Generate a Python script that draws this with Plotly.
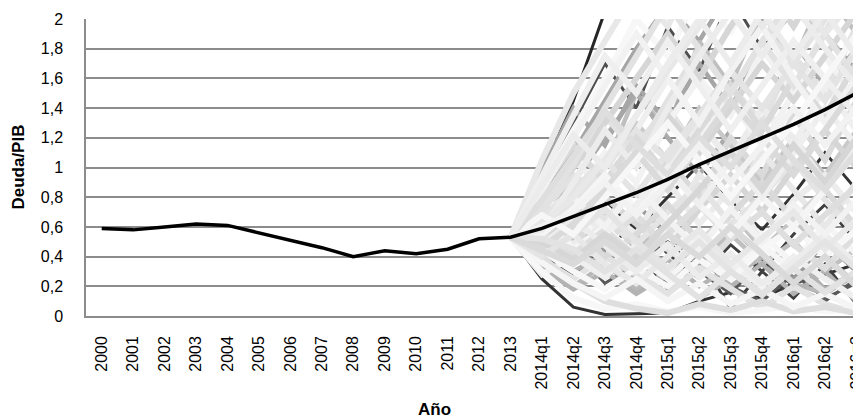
import plotly.graph_objects as go

categories = [str(y) for y in range(2000, 2014)] + [
    "2014q1", "2014q2", "2014q3", "2014q4",
    "2015q1", "2015q2", "2015q3", "2015q4",
    "2016q1", "2016q2", "2016q3",
]

central_path = [0.59, 0.58, 0.60, 0.62, 0.61, 0.56, 0.51, 0.46, 0.40, 0.44, 0.42, 0.45, 0.52, 0.53,
                0.59, 0.67, 0.75, 0.83, 0.92, 1.02, 1.11, 1.20, 1.29, 1.39, 1.50]

sim_categories = categories[13:]

sim_dark = [
    [0.53, 0.95, 1.45, 2.05, 2.30, 2.50, 2.40, 2.60, 2.50, 2.70, 2.60, 2.80],
    [0.53, 0.25, 0.06, 0.01, 0.015, 0.02, 0.10, 0.16, 0.12, 0.22, 0.28, 0.35],
    [0.53, 0.35, 0.50, 0.28, 0.45, 0.18, 0.40, 0.05, 0.30, 0.12, 0.35, 0.08],
    [0.53, 0.30, 0.45, 0.22, 0.35, 0.50, 0.30, 0.15, 0.38, 0.20, 0.10, 0.25],
    [0.53, 0.90, 1.30, 1.70, 1.40, 1.95, 1.65, 2.15, 1.80, 2.05, 2.30, 2.10],
    [0.53, 0.40, 0.28, 0.45, 0.62, 0.42, 0.25, 0.48, 0.30, 0.55, 0.75, 0.50],
    [0.53, 0.62, 0.45, 0.28, 0.42, 0.22, 0.40, 0.20, 0.10, 0.28, 0.12, 0.22],
    [0.53, 0.74, 0.55, 0.78, 0.58, 0.80, 1.02, 0.78, 0.58, 0.82, 1.10, 0.85],
]

sim_mid = [
    [0.53, 0.80, 1.10, 1.45, 1.80, 2.10, 1.85, 2.20, 2.00, 2.30, 2.10, 2.40],
    [0.53, 0.45, 0.30, 0.42, 0.25, 0.38, 0.20, 0.33, 0.22, 0.40, 0.18, 0.30],
    [0.53, 0.85, 1.20, 1.00, 1.50, 1.25, 1.85, 1.55, 2.05, 1.70, 2.20, 1.90],
    [0.53, 0.40, 0.62, 0.45, 0.75, 0.55, 0.35, 0.60, 0.40, 0.25, 0.50, 0.30],
    [0.53, 0.68, 0.50, 0.38, 0.55, 0.32, 0.50, 0.70, 0.45, 0.65, 0.40, 0.22],
    [0.53, 0.33, 0.20, 0.35, 0.18, 0.30, 0.12, 0.25, 0.40, 0.22, 0.15, 0.28],
    [0.53, 0.72, 0.90, 1.20, 1.50, 1.20, 0.95, 1.25, 1.55, 1.85, 1.55, 1.80],
    [0.53, 0.36, 0.52, 0.68, 0.45, 0.62, 0.38, 0.55, 0.35, 0.50, 0.30, 0.45],
    [0.53, 0.92, 0.70, 1.00, 1.30, 1.05, 1.40, 1.15, 0.90, 1.20, 0.95, 1.25],
    [0.53, 0.32, 0.18, 0.30, 0.15, 0.28, 0.45, 0.20, 0.35, 0.15, 0.30, 0.10],
    [0.53, 0.98, 1.40, 1.15, 1.55, 1.30, 1.70, 1.40, 1.80, 1.55, 1.90, 1.65],
]

sim_light = [
    [0.53, 0.70, 0.95, 0.80, 1.15, 1.40, 1.10, 1.55, 1.30, 1.75, 1.50, 1.95],
    [0.53, 0.60, 0.48, 0.72, 0.55, 0.90, 0.62, 0.85, 0.50, 0.78, 0.95, 0.70],
    [0.53, 0.65, 0.82, 1.10, 0.90, 1.30, 1.60, 1.35, 1.80, 1.50, 1.95, 2.20],
    [0.53, 0.75, 0.58, 0.95, 0.70, 1.05, 0.80, 1.20, 0.95, 1.35, 1.05, 1.45],
    [0.53, 0.50, 0.70, 0.52, 0.38, 0.60, 0.45, 0.28, 0.55, 0.35, 0.62, 0.42],
    [0.53, 0.55, 0.40, 0.65, 0.85, 0.60, 0.95, 0.75, 1.10, 0.85, 0.60, 0.90],
    [0.53, 0.42, 0.58, 0.80, 0.62, 0.45, 0.72, 0.95, 0.70, 1.00, 1.25, 1.00],
    [0.53, 0.78, 1.05, 0.85, 1.25, 1.60, 1.30, 1.05, 1.40, 1.15, 1.55, 1.25],
    [0.53, 0.62, 0.85, 0.65, 0.48, 0.70, 0.88, 0.62, 0.80, 1.05, 0.78, 0.55],
    [0.53, 0.88, 1.25, 1.60, 2.00, 1.75, 2.20, 1.90, 2.40, 2.10, 2.50, 2.20],
    [0.53, 0.47, 0.35, 0.50, 0.68, 0.45, 0.30, 0.52, 0.70, 0.48, 0.32, 0.55],
    [0.53, 0.38, 0.25, 0.40, 0.28, 0.15, 0.32, 0.18, 0.05, 0.20, 0.08, 0.02],
    [0.53, 0.58, 0.75, 0.55, 0.72, 1.00, 1.30, 1.05, 1.40, 1.20, 0.90, 1.15],
    [0.53, 0.82, 0.62, 0.90, 1.15, 0.92, 1.20, 1.45, 1.15, 1.50, 1.75, 1.45],
    [0.53, 0.45, 0.60, 0.40, 0.55, 0.75, 0.50, 0.68, 0.90, 0.65, 0.85, 0.60],
    [0.53, 0.66, 0.45, 0.60, 0.40, 0.25, 0.45, 0.28, 0.48, 0.30, 0.50, 0.35],
    [0.53, 1.05, 1.50, 1.85, 2.20, 1.95, 2.40, 2.10, 2.50, 2.30, 2.60, 2.40],
    [0.53, 0.52, 0.68, 0.88, 1.10, 1.35, 1.10, 1.40, 1.70, 1.45, 1.75, 2.05],
    [0.53, 0.28, 0.40, 0.26, 0.48, 0.30, 0.55, 0.35, 0.20, 0.40, 0.25, 0.12],
    [0.53, 0.60, 0.78, 1.00, 1.25, 1.05, 1.35, 1.65, 1.95, 1.70, 2.00, 2.25],
    [0.53, 0.44, 0.30, 0.18, 0.32, 0.20, 0.38, 0.25, 0.45, 0.60, 0.40, 0.58],
    [0.53, 0.56, 0.42, 0.58, 0.40, 0.55, 0.75, 0.52, 0.70, 0.48, 0.68, 0.88],
    [0.53, 0.70, 1.00, 1.35, 1.10, 1.45, 1.80, 1.50, 1.85, 2.15, 1.90, 2.30],
    [0.53, 0.48, 0.65, 0.48, 0.30, 0.48, 0.26, 0.42, 0.22, 0.36, 0.55, 0.35],
    [0.53, 0.64, 0.80, 0.60, 0.88, 0.65, 0.45, 0.72, 0.50, 0.75, 0.55, 0.78],
    [0.53, 0.86, 1.15, 0.90, 1.20, 0.95, 1.25, 1.55, 1.25, 1.60, 1.35, 1.70],
    [0.53, 0.55, 0.72, 0.95, 0.72, 0.98, 0.75, 0.55, 0.80, 0.60, 0.85, 1.10],
    [0.53, 0.43, 0.55, 0.35, 0.22, 0.40, 0.58, 0.35, 0.52, 0.70, 0.45, 0.65],
    [0.53, 0.76, 1.00, 1.30, 1.60, 1.90, 1.60, 1.95, 2.25, 1.95, 2.30, 2.05],
    [0.53, 0.50, 0.35, 0.55, 0.75, 1.00, 0.75, 1.05, 0.80, 1.10, 1.40, 1.15],
    [0.53, 0.66, 0.85, 1.05, 0.82, 1.10, 1.35, 1.65, 1.40, 1.70, 1.45, 1.80],
    [0.53, 0.30, 0.12, 0.05, 0.08, 0.03, 0.06, 0.02, 0.04, 0.07, 0.03, 0.05],
    [0.53, 0.40, 0.22, 0.10, 0.05, 0.02, 0.08, 0.04, 0.10, 0.03, 0.06, 0.02],
    [0.53, 0.72, 1.02, 1.40, 1.75, 2.10, 1.80, 1.50, 1.85, 1.55, 1.90, 1.60],
    [0.53, 0.58, 0.90, 1.25, 1.00, 1.40, 1.75, 2.05, 1.75, 2.10, 1.80, 1.55],
    [0.53, 0.84, 1.20, 1.55, 1.90, 1.60, 1.30, 1.65, 1.95, 1.60, 1.30, 1.60],
    [0.53, 0.46, 0.62, 0.85, 1.10, 0.85, 1.15, 1.45, 1.20, 0.95, 1.25, 1.55],
    [0.53, 0.36, 0.22, 0.12, 0.25, 0.10, 0.22, 0.08, 0.18, 0.06, 0.15, 0.05],
    [0.53, 0.62, 0.80, 1.05, 1.35, 1.65, 1.95, 2.25, 1.95, 2.20, 1.90, 2.15],
    [0.53, 0.50, 0.38, 0.55, 0.40, 0.62, 0.85, 1.10, 0.85, 1.15, 0.90, 1.20],
    [0.53, 0.95, 1.35, 1.75, 1.50, 1.85, 1.55, 1.25, 1.55, 1.85, 1.60, 1.35],
    [0.53, 0.40, 0.55, 0.72, 0.50, 0.32, 0.50, 0.30, 0.15, 0.32, 0.50, 0.32],
    [0.53, 0.68, 0.55, 0.80, 1.05, 1.30, 1.05, 0.80, 1.05, 1.30, 1.60, 1.90],
    [0.53, 0.78, 1.08, 1.38, 1.15, 0.95, 1.20, 1.00, 1.30, 1.05, 0.85, 1.10],
    [0.53, 0.52, 0.45, 0.30, 0.45, 0.28, 0.12, 0.30, 0.14, 0.32, 0.16, 0.30],
    [0.53, 0.88, 1.22, 1.00, 1.35, 1.70, 2.00, 1.70, 2.05, 1.75, 2.05, 1.75],
    [0.53, 0.60, 0.70, 0.90, 0.68, 0.90, 1.15, 0.90, 1.15, 1.40, 1.15, 1.40],
    [0.53, 0.44, 0.35, 0.50, 0.35, 0.55, 0.40, 0.60, 0.42, 0.22, 0.40, 0.20],
]

y_ticks = [0, 0.2, 0.4, 0.6, 0.8, 1, 1.2, 1.4, 1.6, 1.8, 2]
y_tick_labels = ["0", "0,2", "0,4", "0,6", "0,8", "1", "1,2", "1,4", "1,6", "1,8", "2"]

dark_colors = ["#262626", "#333333", "#404040", "#595959", "#4d4d4d", "#404040", "#595959", "#333333"]
mid_colors = ["#a6a6a6", "#b3b3b3", "#bfbfbf", "#999999", "#c4c4c4", "#b8b8b8",
              "#ababab", "#bfbfbf", "#c9c9c9", "#b3b3b3", "#a6a6a6"]
light_colors = ["#e2e2e2", "#ececec", "#f2f2f2", "#dadada", "#f5f5f5", "#e8e8e8",
                "#d6d6d6", "#efefef", "#e4e4e4", "#f7f7f7", "#dedede"]

fig = go.Figure()

for i, s in enumerate(sim_dark):
    fig.add_trace(go.Scatter(x=sim_categories, y=s, mode="lines",
                             line=dict(color=dark_colors[i % len(dark_colors)], width=3),
                             showlegend=False, hoverinfo="skip"))
for i, s in enumerate(sim_mid):
    fig.add_trace(go.Scatter(x=sim_categories, y=s, mode="lines",
                             line=dict(color=mid_colors[i % len(mid_colors)], width=4.5),
                             showlegend=False, hoverinfo="skip"))
for i, s in enumerate(sim_light):
    fig.add_trace(go.Scatter(x=sim_categories, y=s, mode="lines",
                             line=dict(color=light_colors[i % len(light_colors)], width=6),
                             showlegend=False, hoverinfo="skip"))

fig.add_trace(go.Scatter(x=categories, y=central_path, mode="lines",
                         line=dict(color="#000000", width=3.5),
                         showlegend=False, hoverinfo="skip"))

font_family = "Liberation Sans, Arial, sans-serif"

fig.update_layout(
    width=861, height=419,
    margin=dict(l=78, r=11, t=11, b=111),
    paper_bgcolor="white", plot_bgcolor="white",
    font=dict(family=font_family, size=16, color="#000000"),
    xaxis=dict(
        type="category", categoryorder="array", categoryarray=categories,
        range=[-0.5, 24.05], tickangle=-90, showgrid=False,
        showline=True, linecolor="#8c8c8c", linewidth=1.5,
        ticks="", ticklabelstandoff=12, automargin=False,
        tickfont=dict(size=16, family=font_family),
    ),
    yaxis=dict(
        range=[0, 2], tickvals=y_ticks, ticktext=y_tick_labels,
        showgrid=True, gridcolor="#8c8c8c", gridwidth=1.5,
        showline=True, linecolor="#8c8c8c", linewidth=1.5,
        zeroline=False, ticks="", ticklabelstandoff=18, automargin=False,
        tickfont=dict(size=16, family=font_family),
    ),
    annotations=[
        dict(text="<b>Año</b>", xref="paper", yref="paper", x=0.452, y=-0.316,
             xanchor="center", yanchor="middle", showarrow=False,
             font=dict(size=17, family=font_family)),
        dict(text="<b>Deuda/PIB</b>", xref="paper", yref="paper", x=-0.088, y=0.5,
             xanchor="center", yanchor="middle", showarrow=False, textangle=-90,
             font=dict(size=17, family=font_family)),
    ],
)

fig.write_html("out.html")
